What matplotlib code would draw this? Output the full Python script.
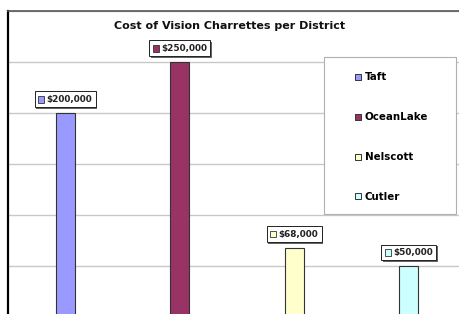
import matplotlib
matplotlib.use("Agg")
import matplotlib.pyplot as plt
from matplotlib.patches import Rectangle
from matplotlib.lines import Line2D
from matplotlib.offsetbox import AnnotationBbox, HPacker, TextArea, DrawingArea
import matplotlib.patheffects as pe

# data
districts = ["Taft", "OceanLake", "Nelscott", "Cutler"]
costs = [200000, 250000, 68000, 50000]
cost_labels = ["$200,000", "$250,000", "$68,000", "$50,000"]
colors = ["#9999ff", "#993366", "#ffffcc", "#ccffff"]

plt.rcParams["font.family"] = ["DejaVu Sans"]

fig = plt.figure(figsize=(4.6, 3.14), dpi=100)
# the screenshot is cropped: plot area runs past the right and bottom edges
ax = fig.add_axes([8 / 460, -3 / 314, 458 / 460, 306 / 314])

x = list(range(len(districts)))
ax.bar(x, costs, width=0.166, color=colors, edgecolor="#333333", linewidth=0.8, zorder=2)

ax.set_xlim(-0.5, 3.5)
ax.set_ylim(0, 300000)
ax.set_yticks(range(0, 300001, 50000))
ax.set_xticks([])
ax.tick_params(axis="y", length=0, labelleft=False)
ax.yaxis.grid(True, color="#c8c8c8", linewidth=1.0, zorder=0.5)
ax.set_axisbelow(True)

ax.spines["left"].set_color("black")
ax.spines["left"].set_linewidth(1.6)
ax.spines["top"].set_color("#555555")
ax.spines["top"].set_linewidth(1.2)
ax.spines["right"].set_visible(False)
ax.spines["bottom"].set_visible(False)

fig.text(0.5, 1 - 26 / 314, "Cost of Vision Charrettes per District",
         ha="center", va="center", fontsize=8.0, fontweight="bold", color="#111111")

# data labels with a little colour key and a drop shadow
for xi, v, lab, c in zip(x, costs, cost_labels, colors):
    key = DrawingArea(4.5, 4.5, 0, 0)
    key.add_artist(Rectangle((0, 0), 4.5, 4.5, facecolor=c, edgecolor="#333333", linewidth=0.6))
    txt = TextArea(lab, textprops=dict(fontsize=6.4, fontweight="bold", color="#222222"))
    box = HPacker(children=[key, txt], align="center", pad=0, sep=1.5)
    ab = AnnotationBbox(box, (xi, v), xybox=(0, 6.5), xycoords="data",
                        boxcoords="offset points", box_alignment=(0.5, 0),
                        frameon=True, pad=0.25,
                        bboxprops=dict(edgecolor="#222222", facecolor="white", linewidth=0.7))
    ab.patch.set_path_effects([pe.SimplePatchShadow(offset=(1.2, -1.2), shadow_rgbFace="#222222", alpha=0.7),
                               pe.Normal()])
    ab.set_zorder(4)
    ax.add_artist(ab)

# legend frame drawn by hand so the entries can sit where they do in the original
def fig_to_axes(px, py):
    return (px - 8) / 458, (314 - py + 3) / 306

lx0, ly0 = fig_to_axes(324, 214)
lx1, ly1 = fig_to_axes(456, 57)
ax.add_patch(Rectangle((lx0, ly0), lx1 - lx0, ly1 - ly0, transform=ax.transAxes,
                       facecolor="white", edgecolor="#b0b0b0", linewidth=0.8,
                       zorder=3, clip_on=False))

handles = [Line2D([], [], linestyle="none", marker="s", markersize=5,
                  markerfacecolor=c, markeredgecolor="#333333", markeredgewidth=0.7)
           for c in colors]
ax_x, ax_y = fig_to_axes(354.5, 72.5)
leg = ax.legend(handles, districts, loc="upper left", bbox_to_anchor=(ax_x, ax_y),
                frameon=False, borderpad=0, borderaxespad=0, handlelength=0.75,
                handletextpad=0.25, labelspacing=2.9,
                prop=dict(size=7.4, weight="bold"))
leg.set_zorder(5)

fig.savefig("out.png", dpi=100)
